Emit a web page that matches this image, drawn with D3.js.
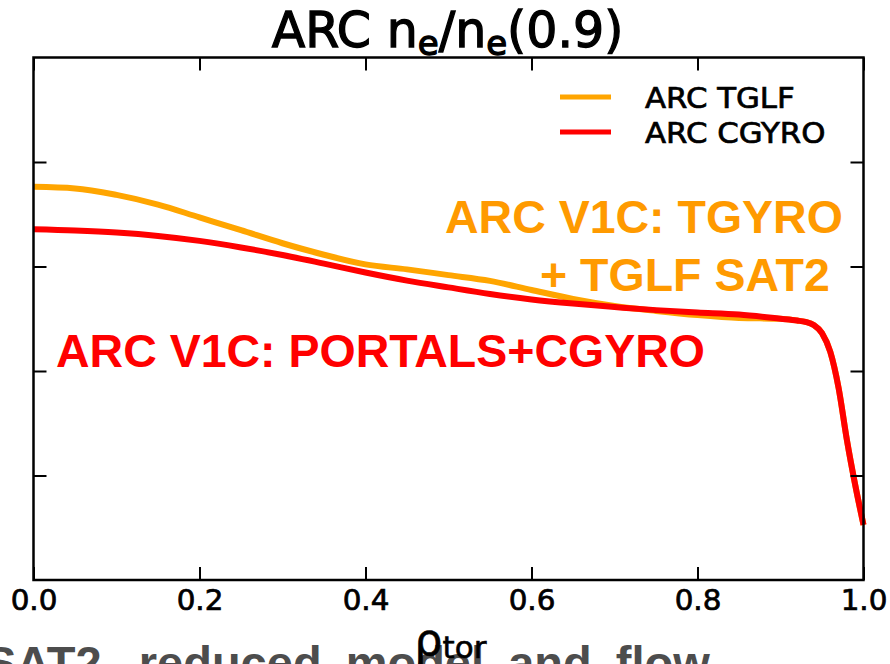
<!DOCTYPE html>
<html>
<head>
<meta charset="utf-8">
<script src="https://cdn.jsdelivr.net/npm/d3@7"></script>
<style>
  html, body { margin: 0; padding: 0; background: #fff; }
  svg { display: block; }
</style>
</head>
<body>
<svg id="chart" width="890" height="664"></svg>
<script>
// Normalised electron density profiles n_e / n_e(0.9) versus rho_tor
const rho = [0, 0.05, 0.1, 0.15, 0.2, 0.25, 0.3, 0.35, 0.4, 0.45, 0.5, 0.55, 0.6, 0.65,
             0.7, 0.75, 0.8, 0.85, 0.9, 0.92, 0.93, 0.94, 0.95, 0.96, 0.97, 0.98, 0.99, 1.0];
const neTGLF = [1.505, 1.499, 1.474, 1.437, 1.388, 1.339, 1.289, 1.245, 1.208, 1.189, 1.167, 1.145,
                1.110, 1.076, 1.049, 1.030, 1.014, 1.003, 1.000, 0.993, 0.988, 0.976, 0.945, 0.873,
                0.735, 0.536, 0.364, 0.211];
const neCGYRO = [1.343, 1.338, 1.330, 1.317, 1.298, 1.273, 1.244, 1.211, 1.177, 1.146, 1.120, 1.095,
                 1.074, 1.058, 1.045, 1.033, 1.024, 1.016, 1.000, 0.993, 0.988, 0.976, 0.945, 0.873,
                 0.735, 0.536, 0.364, 0.211];
const seriesNames = ["ARC TGLF", "ARC CGYRO"];
const seriesColors = ["#ffa500", "#ff0000"];
const xTicks = [0, 0.2, 0.4, 0.6, 0.8, 1.0];
const yTicks = [0.4, 0.8, 1.2, 1.6];

const svg = d3.select("#chart");
const plot = { left: 33.5, right: 863.5, top: 57.5, bottom: 580 };

const x = d3.scaleLinear().domain([0, 1]).range([plot.left, plot.right]);
const y = d3.scaleLinear().domain([0, 2]).range([plot.bottom, plot.top]);

const sans = "'DejaVu Sans', Verdana, sans-serif";
const bold = "'Liberation Sans', Arial, Helvetica, sans-serif";

// Caption line running off the bottom edge
svg.append("text")
  .attr("x", -15).attr("y", 679)
  .attr("font-family", bold).attr("font-weight", "bold")
  .attr("font-size", 47).attr("fill", "#4d4d4d")
  .attr("word-spacing", 11)
  .text("SAT2, reduced model and flow");

// Curves
const series = [neTGLF, neCGYRO];
const line = d3.line()
  .x(d => x(d[0]))
  .y(d => y(d[1]))
  .curve(d3.curveMonotoneX);

svg.append("g").selectAll("path")
  .data(series)
  .join("path")
  .attr("d", s => line(rho.map((r, i) => [r, s[i]])))
  .attr("fill", "none")
  .attr("stroke", (s, i) => seriesColors[i])
  .attr("stroke-width", 6)
  .attr("stroke-linejoin", "round")
  .attr("stroke-linecap", "butt");

// Axes: ticks point inward, y labels hidden
const tickLen = 13;
svg.append("g")
  .attr("transform", `translate(0,${plot.bottom})`)
  .call(d3.axisBottom(x).tickValues(xTicks).tickSizeInner(-tickLen).tickSizeOuter(0)
        .tickPadding(0).tickFormat(d3.format(".1f")))
  .call(g => g.select(".domain").remove())
  .call(g => g.selectAll("line").attr("stroke", "#000").attr("stroke-width", 2))
  .call(g => g.selectAll("text")
    .attr("y", null).attr("dy", null)
    .attr("transform", "translate(0,30) scale(1.05,1)")
    .attr("font-family", sans).attr("font-size", 28).attr("fill", "#000")
    .attr("stroke", "#000").attr("stroke-width", 0.7));

svg.append("g")
  .attr("transform", `translate(0,${plot.top})`)
  .call(d3.axisTop(x).tickValues(xTicks).tickSizeInner(-tickLen).tickSizeOuter(0).tickFormat(""))
  .call(g => g.select(".domain").remove())
  .call(g => g.selectAll("line").attr("stroke", "#000").attr("stroke-width", 2));

svg.append("g")
  .attr("transform", `translate(${plot.left},0)`)
  .call(d3.axisLeft(y).tickValues(yTicks).tickSizeInner(-tickLen).tickSizeOuter(0).tickFormat(""))
  .call(g => g.select(".domain").remove())
  .call(g => g.selectAll("line").attr("stroke", "#000").attr("stroke-width", 2));

svg.append("g")
  .attr("transform", `translate(${plot.right},0)`)
  .call(d3.axisRight(y).tickValues(yTicks).tickSizeInner(-tickLen).tickSizeOuter(0).tickFormat(""))
  .call(g => g.select(".domain").remove())
  .call(g => g.selectAll("line").attr("stroke", "#000").attr("stroke-width", 2));

// Frame
svg.append("rect")
  .attr("x", plot.left).attr("y", plot.top)
  .attr("width", plot.right - plot.left).attr("height", plot.bottom - plot.top)
  .attr("fill", "none").attr("stroke", "#000").attr("stroke-width", 2.5);

// Title
const title = svg.append("text")
  .attr("transform", `translate(${(plot.left + plot.right) / 2 - 1},47)`)
  .attr("text-anchor", "middle")
  .attr("font-family", sans).attr("font-size", 49).attr("fill", "#000")
  .attr("stroke", "#000").attr("stroke-width", 1.3);
title.append("tspan").text("ARC n");
title.append("tspan").attr("font-size", 34).attr("dy", 8).text("e");
title.append("tspan").attr("dy", -8).text("/n");
title.append("tspan").attr("font-size", 34).attr("dy", 8).text("e");
title.append("tspan").attr("dy", -8).text("(0.9)");

// x label
const xl = svg.append("text")
  .attr("transform", `translate(${(plot.left + plot.right) / 2 + 2},655)`)
  .attr("text-anchor", "middle")
  .attr("font-family", sans).attr("font-size", 44).attr("fill", "#000")
  .attr("stroke", "#000").attr("stroke-width", 0.6);
xl.append("tspan").text("\u03c1");
xl.append("tspan").attr("font-size", 31).attr("dy", 3).text("tor");

// Legend
const legend = svg.append("g").attr("transform", "translate(560,97)");
const items = legend.selectAll("g").data(seriesNames).join("g")
  .attr("transform", (d, i) => `translate(0,${i * 35})`);
items.append("line")
  .attr("x1", 0).attr("x2", 51).attr("y1", 0).attr("y2", 0)
  .attr("stroke", (d, i) => seriesColors[i]).attr("stroke-width", 5);
items.append("text")
  .attr("transform", "translate(85,10.5) scale(1.1,1)")
  .attr("font-family", sans).attr("font-size", 28).attr("fill", "#000")
  .attr("stroke", "#000").attr("stroke-width", 0.7)
  .text(d => d);

// Annotations
const notes = [
  { text: "ARC V1C: TGYRO", x: 445, y: 233, color: "#ff9a00" },
  { text: "+ TGLF SAT2", x: 540, y: 291, color: "#ff9a00" },
  { text: "ARC V1C: PORTALS+CGYRO", x: 56, y: 367, color: "#ff0000" }
];
svg.append("g").selectAll("text").data(notes).join("text")
  .attr("x", d => d.x).attr("y", d => d.y)
  .attr("font-family", bold).attr("font-weight", "bold")
  .attr("font-size", 46.5).attr("fill", d => d.color)
  .text(d => d.text);
</script>
</body>
</html>
